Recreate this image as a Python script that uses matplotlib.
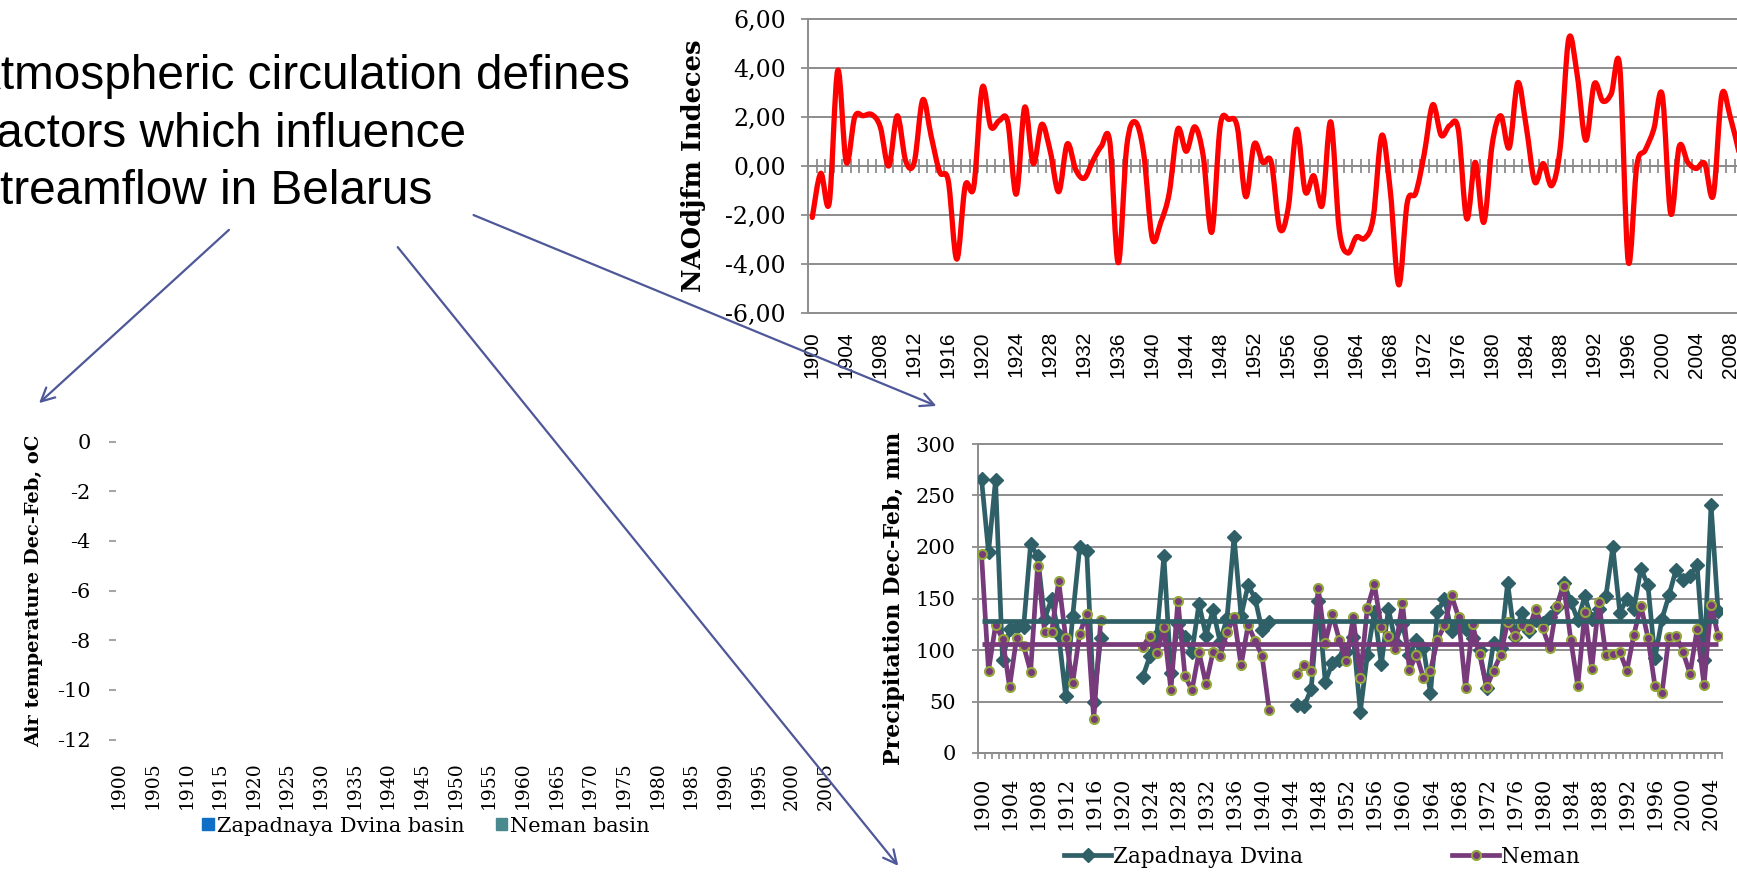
import numpy as np
import matplotlib
matplotlib.use("Agg")
import matplotlib.pyplot as plt
from matplotlib.path import Path
from matplotlib.patches import PathPatch, Patch, FancyArrowPatch
from matplotlib.lines import Line2D

W, H = 1737, 873

# --- NAO index (top chart) ---
nao_years = list(range(1900, 2010))
nao_index = [
    -2.1, -0.3, -1.5, 3.9, 0.15, 2.0, 2.05, 2.1, 1.6, 0.0,
    2.05, 0.2, 0.15, 2.7, 1.2, -0.25, -0.6, -3.8, -0.8, -0.85,
    3.2, 1.6, 1.85, 1.8, -1.15, 2.4, 0.1, 1.7, 0.6, -1.05,
    0.9, -0.15, -0.5, 0.2, 0.8, 1.0, -3.95, 0.8, 1.8, 0.5,
    -2.95, -2.3, -1.1, 1.5, 0.6, 1.6, 0.4, -2.7, 1.65, 1.9,
    1.6, -1.25, 0.9, 0.15, 0.15, -2.55, -1.7, 1.5, -1.05, -0.4,
    -1.6, 1.8, -2.6, -3.55, -2.9, -2.95, -2.1, 1.25, -1.0, -4.85,
    -1.5, -1.1, 0.5, 2.5, 1.25, 1.65, 1.5, -2.15, 0.15, -2.3,
    0.9, 2.05, 0.75, 3.4, 1.6, -0.65, 0.1, -0.8, 0.75, 5.2,
    3.7, 1.05, 3.35, 2.65, 2.95, 4.05, -3.9, 0.0, 0.65, 1.5,
    2.9, -1.95, 0.8, 0.15, -0.1, 0.1, -1.2, 2.9, 2.0, 0.6,
]
nao_ticks = [-6, -4, -2, 0, 2, 4, 6]

# --- Precipitation Dec-Feb (bottom right chart) ---
nan = np.nan
precip_years = list(range(1900, 2006))
zap_precip = [
    266, 195, 265, 90, 120, 122, 122, 203, 191, 130,
    150, 115, 55, 133, 200, 196, 50, 112, nan, nan,
    nan, nan, nan, 74, 94, 115, 191, 78, 125, 113,
    98, 145, 114, 139, 108, 131, 210, 133, 163, 150,
    119, 127, nan, nan, nan, 47, 46, 62, 148, 69,
    87, 90, 98, 113, 40, 95, 137, 86, 140, 108,
    125, 95, 110, 102, 58, 137, 150, 118, 125, 120,
    112, 100, 63, 107, 102, 165, 113, 136, 118, 129,
    126, 132, 142, 165, 147, 129, 152, 130, 140, 152,
    200, 136, 150, 140, 179, 163, 92, 130, 153, 178,
    168, 172, 183, 90, 241, 138,
]
neman_precip = [
    193, 80, 124, 111, 64, 112, 104, 79, 182, 117,
    117, 167, 112, 68, 116, 135, 33, 129, nan, nan,
    nan, nan, nan, 103, 114, 97, 122, 61, 148, 75,
    61, 98, 67, 98, 94, 117, 132, 85, 124, 109,
    94, 42, nan, nan, nan, 77, 85, 80, 160, 107,
    135, 110, 89, 132, 73, 141, 164, 122, 114, 101,
    146, 81, 95, 73, 80, 110, 124, 153, 132, 63,
    125, 96, 64, 80, 95, 127, 114, 124, 120, 140,
    121, 102, 143, 162, 110, 65, 137, 82, 147, 95,
    96, 98, 80, 115, 143, 112, 65, 58, 113, 114,
    98, 77, 120, 66, 144, 114,
]
zap_mean = 128
neman_mean = 106
precip_ticks = [0, 50, 100, 150, 200, 250, 300]

# --- Air temperature Dec-Feb (bottom left chart, no data shown) ---
temp_years = list(range(1900, 2008))
temp_label_years = list(range(1900, 2006, 5))
temp_ticks = [0, -2, -4, -6, -8, -10, -12]

SERIF = "DejaVu Serif"
SANS = "Liberation Sans"
GRID = "#8c8c8c"
RED = "#ff0000"
TEAL = "#2f6067"
PURPLE = "#773a7b"
OLIVE = "#93a83a"
ARROW = "#4e5898"


def px_box(left, top, right, bottom):
    return [left / W, 1 - bottom / H, (right - left) / W, (bottom - top) / H]


def smooth_path(x, y):
    # bezier through every point, like a spreadsheet "smoothed line"
    n = len(x)
    verts = [(x[0], y[0])]
    codes = [Path.MOVETO]
    for i in range(n - 1):
        a = max(i - 1, 0)
        d = min(i + 2, n - 1)
        c1 = (x[i] + (x[i + 1] - x[a]) / 6, y[i] + (y[i + 1] - y[a]) / 6)
        c2 = (x[i + 1] - (x[d] - x[i]) / 6, y[i + 1] - (y[d] - y[i]) / 6)
        verts += [c1, c2, (x[i + 1], y[i + 1])]
        codes += [Path.CURVE4] * 3
    return Path(verts, codes)


fig = plt.figure(figsize=(W / 100, H / 100), dpi=100)

# ---------------- top: NAO ----------------
ax1 = fig.add_axes(px_box(808, 19, 808 + len(nao_years) * 8.5, 313))
ax1.set_xlim(nao_years[0] - 0.5, nao_years[-1] + 0.5)
ax1.set_ylim(nao_ticks[0], nao_ticks[-1])
ax1.set_yticks(nao_ticks)
ax1.set_yticklabels([f"{v:.2f}".replace(".", ",") for v in nao_ticks],
                    family=SERIF, fontsize=17)
ax1.set_xticks(nao_years[::4])
ax1.set_xticklabels([str(y) for y in nao_years[::4]], rotation=90,
                    family=SANS, fontsize=15)
ax1.tick_params(axis="x", length=0, pad=13)
ax1.tick_params(axis="y", length=5, width=1.3, color=GRID, pad=11)
ax1.yaxis.grid(True, color=GRID, lw=1.4)
for gl in ax1.get_ygridlines():
    gl.set_clip_on(False)
for s in ["top", "right", "bottom"]:
    ax1.spines[s].set_visible(False)
ax1.spines["left"].set_color(GRID)
ax1.spines["left"].set_linewidth(1.4)
ax1.set_ylabel("NAOdjfm Indeces", family=SERIF, fontweight="bold",
               fontsize=18.5, labelpad=14)

zero_axis = ax1.secondary_xaxis(0.5)
zero_axis.set_xticks(np.arange(nao_years[0] - 0.5, nao_years[-1] + 1, 1))
zero_axis.xaxis.set_major_formatter(plt.NullFormatter())
zero_axis.tick_params(axis="x", direction="inout", length=10, width=1.3,
                      color=GRID)
for sp in zero_axis.spines.values():
    sp.set_color(GRID)
    sp.set_linewidth(1.4)

ax1.add_patch(PathPatch(smooth_path(nao_years, nao_index), fill=False,
                        edgecolor=RED, lw=3.8, capstyle="round",
                        joinstyle="round", zorder=3))

# ---------------- bottom right: precipitation ----------------
ax2 = fig.add_axes(px_box(978, 444, 978 + len(precip_years) * 7.015, 753))
ax2.set_xlim(precip_years[0] - 0.5, precip_years[-1] + 0.5)
ax2.set_ylim(precip_ticks[0], precip_ticks[-1])
ax2.set_yticks(precip_ticks)
ax2.set_yticklabels([str(v) for v in precip_ticks], family=SERIF, fontsize=15)
ax2.set_xticks(precip_years[::4])
ax2.set_xticklabels([str(y) for y in precip_years[::4]], rotation=90,
                    family=SERIF, fontsize=15)
ax2.set_xticks(np.arange(precip_years[0] - 0.5, precip_years[-1] + 1, 1),
               minor=True)
ax2.tick_params(axis="x", which="major", length=0, pad=17)
ax2.tick_params(axis="x", which="minor", length=4, width=1.2, color=GRID)
ax2.tick_params(axis="y", length=4, width=1.3, color=GRID, pad=12)
ax2.yaxis.grid(True, color=GRID, lw=1.4)
for gl in ax2.get_ygridlines():
    gl.set_clip_on(False)
for s in ["top", "right"]:
    ax2.spines[s].set_visible(False)
for s in ["left", "bottom"]:
    ax2.spines[s].set_color(GRID)
    ax2.spines[s].set_linewidth(1.4)
ax2.set_ylabel("Precipitation Dec-Feb, mm", family=SERIF, fontweight="bold",
               fontsize=16, labelpad=8)

ax2.plot(precip_years, zap_precip, color=TEAL, lw=3.4, marker="D", ms=7.5,
         mfc=TEAL, mec=TEAL, zorder=3)
ax2.plot(precip_years, neman_precip, color=PURPLE, lw=3.4, marker="o", ms=6.5,
         mfc=PURPLE, mec=OLIVE, mew=1.5, zorder=4)
ax2.hlines(zap_mean, precip_years[0], precip_years[-1], color=TEAL, lw=3.4,
           zorder=5)
ax2.hlines(neman_mean, precip_years[0], precip_years[-1], color=PURPLE, lw=3.4,
           zorder=6)

leg2 = [
    Line2D([], [], color=TEAL, lw=3.4, marker="D", ms=7.5, mfc=TEAL, mec=TEAL),
    Line2D([], [], color=PURPLE, lw=3.4, marker="o", ms=6.5, mfc=PURPLE,
           mec=OLIVE, mew=1.5),
]
fig.legend(leg2, ["Zapadnaya Dvina", "Neman"], loc="center",
           bbox_to_anchor=(1322 / W, 1 - 857 / H), ncol=2, frameon=False,
           prop={"family": SERIF, "size": 15.5}, handlelength=2.2,
           handletextpad=0.1, columnspacing=6.9)

# ---------------- bottom left: air temperature ----------------
ax3 = fig.add_axes(px_box(115.6, 441.7, 115.6 + len(temp_years) * 6.73, 739.5))
ax3.set_xlim(temp_years[0] - 0.5, temp_years[-1] + 0.5)
ax3.set_ylim(temp_ticks[-1], temp_ticks[0])
ax3.set_yticks(temp_ticks)
ax3.set_yticklabels([str(v) for v in temp_ticks], family=SERIF, fontsize=15)
ax3.set_xticks(temp_label_years)
ax3.set_xticklabels([str(y) for y in temp_label_years], rotation=90,
                    family=SERIF, fontsize=13.5)
ax3.tick_params(axis="x", length=0, pad=16)
ax3.tick_params(axis="y", length=5, width=1.5, color="#a6a6a6", pad=13)
for s in ax3.spines.values():
    s.set_visible(False)
ax3.set_ylabel("Air temperature Dec-Feb, oC", family=SERIF, fontweight="bold",
               fontsize=14, labelpad=10)

leg3 = [Patch(color="#0f6fc6"), Patch(color="#4a8a8e")]
fig.legend(leg3, ["Zapadnaya Dvina basin", "Neman basin"], loc="center",
           bbox_to_anchor=(426 / W, 1 - 826 / H), ncol=2, frameon=False,
           prop={"family": SERIF, "size": 15}, handlelength=0.55,
           handleheight=0.55, handletextpad=0.15, columnspacing=1.5)

# ---------------- slide text and arrows ----------------
lines = [("Atmospheric circulation defines", -31, 89),
         ("factors which influence", -17, 147),
         ("streamflow in Belarus", -24, 204)]
for txt, x, y in lines:
    fig.text(x / W, 1 - y / H, txt, family=SANS, fontsize=34.4, va="baseline")

arrows = [((231, 228), (37, 405)),
          ((396, 245), (900, 868)),
          ((471, 214), (939, 407))]
for (x0, y0), (x1, y1) in arrows:
    fig.add_artist(FancyArrowPatch((x0 / W, 1 - y0 / H), (x1 / W, 1 - y1 / H),
                                   transform=fig.transFigure, arrowstyle="->",
                                   mutation_scale=24, color=ARROW, lw=1.6))

fig.savefig("out.png", dpi=100)
